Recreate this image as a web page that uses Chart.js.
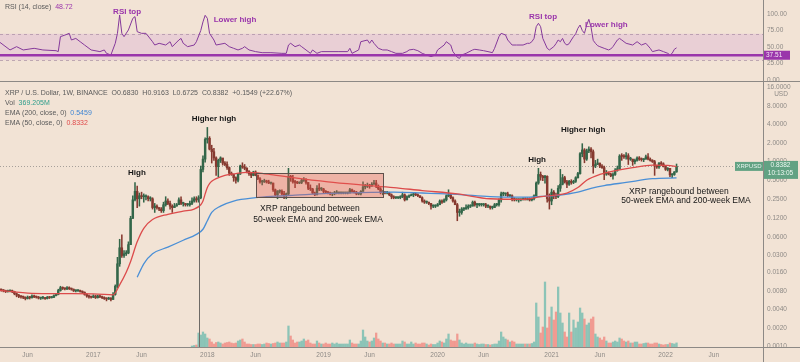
<!DOCTYPE html>
<html>
<head>
<meta charset="utf-8">
<title>XRP / U.S. Dollar, 1W, BINANCE</title>
<script src="https://cdn.jsdelivr.net/npm/chart.js@4.4.1/dist/chart.umd.min.js"></script>
<style>
  html, body { margin: 0; padding: 0; background: #f2e3d5; }
  #wrap { position: relative; width: 800px; height: 362px; overflow: hidden; background: #f2e3d5; }
  canvas { position: absolute; left: 0; display: block; }
  #rsiChart { top: 0; }
  #priceChart { top: 82px; }
</style>
</head>
<body>
<div id="wrap">
  <canvas id="rsiChart" width="800" height="82"></canvas>
  <canvas id="priceChart" width="800" height="280"></canvas>
</div>
<script>
// weekly candles, bar 0 = week of 2016-03-07
const firstWeek = "2016-03-07";
const firstOpen = 0.0086;

const closes = [
  0.0084, 0.0082, 0.0080, 0.0078, 0.0079, 0.0080, 0.0078, 0.0072, 0.0068, 0.0065,
  0.0064, 0.0063, 0.0060, 0.0063, 0.0062, 0.0066, 0.0064, 0.0063, 0.0061, 0.0061,
  0.0062, 0.0060, 0.0063, 0.0062, 0.0063, 0.0067, 0.0070, 0.0081, 0.0090, 0.0088,
  0.0086, 0.0090, 0.0087, 0.0085, 0.0080, 0.0080, 0.0081, 0.0078, 0.0076, 0.0070,
  0.0066, 0.0064, 0.0063, 0.0066, 0.0062, 0.0066, 0.0064, 0.0062, 0.0060, 0.0059,
  0.0061, 0.0058, 0.0070, 0.0095, 0.022, 0.040, 0.030, 0.032, 0.033, 0.045,
  0.12, 0.24, 0.33, 0.25, 0.28, 0.27, 0.27, 0.27, 0.25, 0.25,
  0.18, 0.19, 0.18, 0.17, 0.16, 0.20, 0.23, 0.21, 0.19, 0.18,
  0.19, 0.20, 0.24, 0.21, 0.21, 0.20, 0.20, 0.21, 0.23, 0.25,
  0.24, 0.26, 0.75, 1.10, 2.30, 2.40, 1.60, 1.45, 1.15, 0.83,
  1.05, 1.15, 0.95, 0.90, 0.80, 0.65, 0.62, 0.55, 0.50, 0.63,
  0.85, 0.82, 0.78, 0.70, 0.64, 0.60, 0.68, 0.60, 0.53, 0.47,
  0.47, 0.49, 0.47, 0.45, 0.45, 0.35, 0.29, 0.33, 0.33, 0.30,
  0.29, 0.30, 0.58, 0.55, 0.47, 0.46, 0.45, 0.46, 0.50, 0.51,
  0.46, 0.37, 0.36, 0.31, 0.29, 0.37, 0.36, 0.36, 0.33, 0.32,
  0.31, 0.30, 0.30, 0.31, 0.31, 0.31, 0.31, 0.31, 0.31, 0.31,
  0.35, 0.33, 0.32, 0.30, 0.30, 0.33, 0.39, 0.40, 0.41, 0.40,
  0.43, 0.45, 0.40, 0.36, 0.32, 0.32, 0.31, 0.31, 0.29, 0.27,
  0.26, 0.26, 0.26, 0.27, 0.29, 0.24, 0.27, 0.28, 0.29, 0.30,
  0.29, 0.28, 0.26, 0.23, 0.22, 0.22, 0.21, 0.19, 0.19, 0.19,
  0.20, 0.23, 0.22, 0.24, 0.28, 0.29, 0.26, 0.23, 0.20, 0.15,
  0.15, 0.17, 0.17, 0.18, 0.19, 0.19, 0.22, 0.20, 0.20, 0.20,
  0.20, 0.20, 0.19, 0.19, 0.18, 0.18, 0.20, 0.20, 0.24, 0.30,
  0.30, 0.30, 0.28, 0.28, 0.25, 0.24, 0.24, 0.24, 0.24, 0.25,
  0.24, 0.25, 0.24, 0.25, 0.28, 0.45, 0.62, 0.58, 0.55, 0.58,
  0.25, 0.23, 0.32, 0.28, 0.27, 0.37, 0.43, 0.55, 0.47, 0.43,
  0.48, 0.46, 0.48, 0.55, 0.64, 1.35, 1.55, 1.10, 1.50, 1.60,
  1.45, 0.85, 0.90, 0.95, 0.85, 0.80, 0.63, 0.65, 0.63, 0.59,
  0.62, 0.73, 0.77, 1.23, 1.22, 1.20, 1.25, 1.10, 1.10, 1.00,
  1.05, 1.15, 1.10, 1.08, 1.10, 1.20, 1.10, 1.05, 1.00, 0.85,
  0.82, 0.95, 0.92, 0.83, 0.75, 0.78, 0.61, 0.62, 0.683, 0.8382
];

const highs = [
  0.0088, 0.0086, 0.0084, 0.0082, 0.0082, 0.0083, 0.0082, 0.0079, 0.0074, 0.0070,
  0.0067, 0.0066, 0.0064, 0.0066, 0.0065, 0.0069, 0.0068, 0.0066, 0.0065, 0.0063,
  0.0065, 0.0063, 0.0065, 0.0065, 0.0065, 0.0069, 0.0073, 0.0085, 0.0095, 0.0093,
  0.0090, 0.0094, 0.0093, 0.0089, 0.0086, 0.0083, 0.0084, 0.0082, 0.0080, 0.0077,
  0.0072, 0.0068, 0.0066, 0.0069, 0.0068, 0.0068, 0.0068, 0.0066, 0.0064, 0.0062,
  0.0063, 0.0062, 0.0075, 0.0100, 0.028, 0.055, 0.065, 0.036, 0.036, 0.050,
  0.13, 0.28, 0.46, 0.40, 0.31, 0.32, 0.30, 0.29, 0.28, 0.27,
  0.26, 0.21, 0.20, 0.18, 0.18, 0.22, 0.27, 0.25, 0.23, 0.20,
  0.21, 0.21, 0.26, 0.27, 0.22, 0.21, 0.21, 0.23, 0.26, 0.27,
  0.27, 0.28, 0.85, 1.25, 2.45, 3.60, 2.55, 1.85, 1.65, 1.20,
  1.10, 1.20, 1.13, 1.00, 0.99, 0.82, 0.68, 0.62, 0.57, 0.65,
  0.88, 0.96, 0.90, 0.80, 0.72, 0.66, 0.70, 0.71, 0.61, 0.55,
  0.50, 0.52, 0.50, 0.50, 0.46, 0.45, 0.36, 0.34, 0.35, 0.35,
  0.33, 0.31, 0.78, 0.60, 0.60, 0.50, 0.48, 0.47, 0.52, 0.55,
  0.53, 0.46, 0.42, 0.37, 0.32, 0.41, 0.44, 0.38, 0.37, 0.34,
  0.33, 0.32, 0.31, 0.33, 0.34, 0.32, 0.32, 0.32, 0.32, 0.32,
  0.37, 0.36, 0.34, 0.33, 0.31, 0.34, 0.47, 0.43, 0.45, 0.43,
  0.46, 0.50, 0.50, 0.42, 0.38, 0.34, 0.33, 0.33, 0.32, 0.30,
  0.28, 0.27, 0.27, 0.28, 0.32, 0.30, 0.28, 0.29, 0.30, 0.31,
  0.31, 0.30, 0.28, 0.27, 0.24, 0.23, 0.22, 0.21, 0.20, 0.20,
  0.21, 0.24, 0.24, 0.25, 0.29, 0.35, 0.30, 0.27, 0.24, 0.21,
  0.17, 0.18, 0.18, 0.20, 0.20, 0.20, 0.23, 0.23, 0.21, 0.21,
  0.21, 0.21, 0.21, 0.20, 0.19, 0.19, 0.21, 0.21, 0.25, 0.32,
  0.32, 0.31, 0.32, 0.29, 0.29, 0.26, 0.25, 0.25, 0.25, 0.26,
  0.26, 0.26, 0.26, 0.26, 0.29, 0.47, 0.78, 0.68, 0.60, 0.60,
  0.59, 0.30, 0.36, 0.34, 0.31, 0.41, 0.75, 0.62, 0.58, 0.50,
  0.50, 0.51, 0.50, 0.57, 0.67, 1.40, 1.96, 1.63, 1.60, 1.75,
  1.70, 1.55, 1.05, 1.10, 0.95, 0.90, 0.85, 0.72, 0.68, 0.65,
  0.66, 0.77, 0.85, 1.30, 1.35, 1.30, 1.40, 1.35, 1.18, 1.10,
  1.10, 1.20, 1.21, 1.15, 1.12, 1.28, 1.35, 1.15, 1.08, 1.05,
  0.88, 0.97, 1.00, 0.96, 0.84, 0.80, 0.78, 0.64, 0.69, 0.9163
];

const lows = [
  0.0080, 0.0079, 0.0077, 0.0075, 0.0076, 0.0077, 0.0075, 0.0069, 0.0064, 0.0062,
  0.0061, 0.0060, 0.0057, 0.0059, 0.0059, 0.0061, 0.0062, 0.0061, 0.0059, 0.0058,
  0.0059, 0.0058, 0.0059, 0.0060, 0.0061, 0.0062, 0.0066, 0.0069, 0.0079, 0.0084,
  0.0083, 0.0084, 0.0084, 0.0082, 0.0078, 0.0077, 0.0078, 0.0076, 0.0073, 0.0068,
  0.0063, 0.0061, 0.0061, 0.0062, 0.0060, 0.0061, 0.0062, 0.0060, 0.0058, 0.0055,
  0.0058, 0.0055, 0.0058, 0.0068, 0.0090, 0.020, 0.028, 0.028, 0.030, 0.032,
  0.045, 0.12, 0.23, 0.18, 0.19, 0.25, 0.22, 0.24, 0.23, 0.23,
  0.17, 0.15, 0.17, 0.16, 0.15, 0.15, 0.19, 0.20, 0.17, 0.15,
  0.18, 0.19, 0.20, 0.20, 0.19, 0.19, 0.19, 0.19, 0.20, 0.22,
  0.22, 0.22, 0.25, 0.68, 0.98, 2.00, 1.55, 0.95, 1.05, 0.60,
  0.57, 0.97, 0.88, 0.86, 0.75, 0.60, 0.60, 0.48, 0.45, 0.47,
  0.62, 0.78, 0.74, 0.66, 0.60, 0.55, 0.59, 0.59, 0.51, 0.45,
  0.42, 0.46, 0.45, 0.44, 0.43, 0.33, 0.28, 0.25, 0.31, 0.29,
  0.25, 0.25, 0.29, 0.48, 0.45, 0.38, 0.44, 0.44, 0.44, 0.48,
  0.43, 0.35, 0.34, 0.30, 0.28, 0.29, 0.34, 0.34, 0.31, 0.31,
  0.30, 0.29, 0.28, 0.29, 0.30, 0.30, 0.30, 0.30, 0.30, 0.30,
  0.31, 0.32, 0.31, 0.29, 0.29, 0.29, 0.33, 0.36, 0.38, 0.37,
  0.40, 0.43, 0.38, 0.35, 0.30, 0.29, 0.30, 0.30, 0.28, 0.25,
  0.25, 0.25, 0.25, 0.25, 0.26, 0.23, 0.24, 0.26, 0.28, 0.27,
  0.28, 0.27, 0.26, 0.22, 0.21, 0.21, 0.20, 0.17, 0.18, 0.18,
  0.19, 0.20, 0.21, 0.22, 0.23, 0.27, 0.25, 0.22, 0.20, 0.11,
  0.13, 0.14, 0.16, 0.17, 0.17, 0.18, 0.19, 0.19, 0.18, 0.19,
  0.19, 0.19, 0.18, 0.18, 0.17, 0.17, 0.18, 0.19, 0.19, 0.22,
  0.28, 0.28, 0.27, 0.27, 0.23, 0.23, 0.23, 0.22, 0.23, 0.24,
  0.24, 0.24, 0.23, 0.23, 0.24, 0.28, 0.43, 0.50, 0.49, 0.45,
  0.22, 0.17, 0.20, 0.25, 0.25, 0.26, 0.33, 0.42, 0.45, 0.38,
  0.41, 0.43, 0.44, 0.46, 0.54, 0.63, 1.20, 0.96, 1.05, 1.40,
  1.15, 0.65, 0.80, 0.90, 0.80, 0.78, 0.51, 0.60, 0.61, 0.57,
  0.52, 0.60, 0.70, 0.75, 1.05, 1.13, 1.10, 0.90, 1.05, 0.87,
  0.92, 1.02, 1.05, 1.02, 1.00, 1.10, 1.07, 1.02, 0.97, 0.60,
  0.78, 0.78, 0.88, 0.82, 0.72, 0.71, 0.57, 0.55, 0.60, 0.6725
];

// volume in millions, first value belongs to bar 88 (2017-11-13)
const volStart = 88;
const volumes = [
  90, 135, 180, 1260, 1080, 1350, 1170, 810, 720, 450,
  270, 405, 450, 360, 270, 360, 405, 450, 360, 315,
  360, 540, 630, 720, 450, 270, 270, 225, 225, 225,
  270, 270, 225, 270, 360, 315, 270, 315, 360, 450,
  360, 360, 360, 450, 1890, 990, 630, 360, 450, 450,
  540, 720, 540, 630, 360, 270, 270, 540, 360, 270,
  270, 360, 270, 270, 360, 270, 360, 270, 270, 270,
  270, 270, 630, 360, 270, 270, 270, 540, 1530, 900,
  540, 450, 540, 810, 1260, 720, 540, 360, 360, 270,
  270, 360, 270, 270, 270, 270, 540, 450, 270, 270,
  450, 270, 360, 270, 270, 360, 360, 270, 180, 270,
  225, 225, 360, 540, 450, 360, 720, 1170, 630, 540,
  540, 1170, 630, 360, 270, 360, 270, 270, 270, 360,
  270, 225, 270, 270, 225, 225, 180, 225, 270, 270,
  540, 1350, 900, 720, 630, 450, 540, 450, 270, 270,
  270, 270, 270, 270, 270, 315, 450, 3960, 2700, 1260,
  1800, 5850, 1710, 2700, 3600, 2430, 3150, 5400, 3060, 2160,
  1350, 900, 3060, 1350, 2430, 1710, 2250, 3510, 3060, 2520,
  1980, 2160, 2520, 2700, 1170, 900, 810, 630, 900, 540,
  360, 360, 450, 540, 450, 810, 720, 540, 450, 540,
  360, 360, 450, 450, 270, 270, 315, 360, 360, 270,
  270, 360, 360, 270, 225, 180, 225, 225, 360, 315,
  270, 369.205
];

// EMA readings (bar index -> value)
const ema50Bars = [0, 15, 30, 45, 52, 55, 58, 60, 63, 66, 70, 77, 84, 89, 92, 93, 94, 95, 96, 97, 99, 103, 108, 113, 118, 125, 134, 150, 165, 180, 193, 209, 224, 239, 247, 255, 259, 264, 268, 274, 280, 289, 298, 305, 309];
const ema50Vals = [0.0082, 0.0073, 0.0072, 0.0071, 0.0069, 0.0100, 0.016, 0.024, 0.05, 0.083, 0.115, 0.14, 0.157, 0.17, 0.2, 0.23, 0.3, 0.38, 0.44, 0.48, 0.53, 0.6, 0.64, 0.67, 0.66, 0.61, 0.55, 0.47, 0.42, 0.38, 0.34, 0.3, 0.25, 0.245, 0.27, 0.29, 0.31, 0.38, 0.5, 0.62, 0.7, 0.8, 0.88, 0.87, 0.8332];

const ema200Bars = [63, 66, 70, 77, 84, 90, 93, 95, 97, 101, 107, 117, 126, 135, 150, 165, 180, 193, 209, 224, 239, 247, 255, 264, 270, 276, 286, 298, 309];
const ema200Vals = [0.0133, 0.022, 0.032, 0.041, 0.053, 0.066, 0.08, 0.11, 0.15, 0.19, 0.23, 0.26, 0.275, 0.286, 0.305, 0.315, 0.32, 0.31, 0.295, 0.27, 0.265, 0.272, 0.285, 0.32, 0.37, 0.41, 0.46, 0.53, 0.5459];

// RSI(14) readings
const rsiBars = [0, 5, 8, 11, 16, 20, 26, 27, 28, 30, 32, 33, 35, 37, 39, 42, 46, 48, 49, 51, 53, 54, 55, 56, 57, 59, 61, 62, 63, 65, 67, 70, 71, 73, 76, 78, 79, 82, 83, 84, 86, 89, 90, 92, 93, 94, 95, 96, 98, 99, 103, 105, 107, 109, 111, 112, 114, 117, 120, 124, 129, 131, 132, 133, 135, 137, 138, 140, 142, 143, 145, 147, 155, 159, 160, 161, 164, 165, 168, 169, 170, 171, 173, 175, 177, 179, 181, 184, 186, 187, 189, 191, 193, 195, 197, 199, 200, 203, 204, 206, 207, 209, 210, 211, 213, 216, 217, 219, 221, 223, 225, 226, 228, 229, 231, 232, 234, 236, 239, 241, 242, 243, 244, 245, 246, 247, 248, 250, 251, 253, 254, 255, 256, 257, 258, 259, 260, 261, 262, 263, 264, 265, 266, 267, 268, 269, 270, 271, 272, 273, 274, 276, 278, 279, 280, 282, 283, 284, 286, 289, 291, 293, 295, 297, 298, 301, 303, 305, 306, 307, 308, 309];
const rsiVals = [58, 45.5, 50.5, 45.5, 48, 45.5, 44.4, 43, 65.7, 68, 70.7, 60.6, 63, 58, 53, 45.5, 43, 45.5, 40.4, 37.9, 55.6, 70.7, 98.5, 70.7, 65.7, 75.8, 93.4, 96, 73.2, 70.7, 70.7, 58, 53, 55.6, 53, 58, 50.5, 60.6, 63, 55.6, 50.5, 53, 58, 75, 88, 98, 93.4, 70.7, 60.6, 53, 55.6, 50.5, 48, 45.5, 48, 50.5, 45.5, 43, 41.4, 41.4, 40.4, 40.4, 53, 55.6, 50.5, 53, 50.5, 45.5, 40.4, 45.5, 40.4, 43, 43, 43, 48, 40.4, 45.5, 58, 60.6, 55.6, 60.6, 55.6, 48, 45.5, 45.5, 43, 40.4, 40.4, 43, 45.5, 46.5, 44.4, 40.4, 37.9, 35.4, 37.9, 45.5, 53, 58, 53, 43, 34.3, 32.8, 37.9, 40.4, 45.5, 46.5, 45.5, 44.4, 43, 41.4, 48, 65.7, 70.7, 68.2, 60.6, 53, 53, 53, 55.6, 55.6, 58, 63, 80.8, 85.9, 80.8, 63, 48, 45.5, 50.5, 55, 60.6, 58, 63, 55.6, 53, 55, 60.6, 65.7, 70, 78.3, 83.3, 75, 70.7, 83.3, 91.9, 80, 60, 55.6, 52, 50.5, 48, 45.5, 47, 50.5, 60.6, 63, 60.6, 55.6, 53, 58, 53, 55.6, 48, 43, 45.5, 43, 40.4, 37.9, 40.4, 46.5, 48.72];

const priceTicks = [0.001, 0.002, 0.004, 0.008, 0.016, 0.03, 0.06, 0.12, 0.25, 0.5, 1, 2, 4, 8, 16];
const rsiTicks = [0, 25, 50, 75, 100];
const timeTicks = ["2016-06-06", "2017-01-02", "2017-06-05", "2018-01-01", "2018-06-04", "2019-01-07", "2019-06-03", "2020-01-06", "2020-06-01", "2021-01-04", "2021-06-07", "2022-01-03", "2022-06-06"];
const timeLabels = ["Jun", "2017", "Jun", "2018", "Jun", "2019", "Jun", "2020", "Jun", "2021", "Jun", "2022", "Jun"];

const FONT = "'Liberation Sans', Arial, sans-serif";
const TXT = "#5a5a5a";
const AXIS_TXT = "#8e8a86";
const SEP = "#8d8985";
const UP = "#336649", DOWN = "#86392f";
const VOL_UP = "rgba(38,166,154,0.5)", VOL_DOWN = "rgba(239,83,80,0.5)";
const PURPLE = "#9a35ab";
const GREEN_TAG = "#62a283";

const dayOf = s => Date.parse(s + "T00:00:00Z") / 864e5;
const day0 = dayOf(firstWeek);
const barX = i => day0 + 7 * i;
const xMin = dayOf("2016-03-10"), xMax = dayOf("2022-11-10");

const opens = closes.map((c, i) => i === 0 ? firstOpen : closes[i - 1]);
const isUp = i => closes[i] >= opens[i];
const lastClose = closes[closes.length - 1];

function runs(ctx, x, y, parts, size, weight) {
  ctx.font = (weight || "") + " " + size + "px " + FONT;
  ctx.textAlign = "left";
  ctx.textBaseline = "middle";
  for (const [t, c] of parts) {
    ctx.fillStyle = c;
    ctx.fillText(t, x, y);
    x += ctx.measureText(t).width;
  }
}
function label(ctx, text, x, y, size, color, bold) {
  ctx.font = (bold ? "bold " : "") + size + "px " + FONT;
  ctx.textAlign = "center";
  ctx.textBaseline = "middle";
  ctx.fillStyle = color;
  ctx.fillText(text, x, y);
}
function zeroPad(s) { s.paddingTop = 0; s.paddingBottom = 0; s.paddingLeft = 0; s.paddingRight = 0; }

// ---------- RSI pane ----------
const rsiNotes = [
  { text: "RSI top", bar: 58.4, val: 103 },
  { text: "Lower high", bar: 107.6, val: 90.9 },
  { text: "RSI top", bar: 248.1, val: 95.5 },
  { text: "Lower high", bar: 277, val: 83.3 }
];
const rsiLevel = 37.51;

const rsiOverlay = {
  id: "rsiOverlay",
  beforeDatasetsDraw(chart) {
    const { ctx, chartArea: a, scales: { y } } = chart;
    const top = y.getPixelForValue(70), bot = y.getPixelForValue(30);
    ctx.save();
    ctx.fillStyle = "rgba(180,80,220,0.13)";
    ctx.fillRect(a.left, top, a.right - a.left, bot - top);
    ctx.strokeStyle = "rgba(150,120,150,0.55)";
    ctx.lineWidth = 1;
    ctx.setLineDash([3, 3]);
    for (const yy of [top, bot]) {
      ctx.beginPath(); ctx.moveTo(a.left, Math.round(yy) + 0.5); ctx.lineTo(a.right, Math.round(yy) + 0.5); ctx.stroke();
    }
    ctx.restore();
  },
  afterDatasetsDraw(chart) {
    const { ctx, chartArea: a, scales: { x, y } } = chart;
    const ly = y.getPixelForValue(rsiLevel);
    ctx.save();
    ctx.strokeStyle = PURPLE;
    ctx.lineWidth = 2.5;
    ctx.beginPath(); ctx.moveTo(a.left, ly); ctx.lineTo(a.right, ly); ctx.stroke();
    for (const n of rsiNotes) {
      label(ctx, n.text, x.getPixelForValue(barX(n.bar)), y.getPixelForValue(n.val), 8, PURPLE, true);
    }
    ctx.restore();
  },
  afterDraw(chart) {
    const { ctx, chartArea: a, scales: { y } } = chart;
    ctx.save();
    runs(ctx, 5, 7, [["RSI (14, close)  ", TXT], ["48.72", PURPLE]], 7);
    // level tag on the axis
    const ly = y.getPixelForValue(rsiLevel);
    ctx.fillStyle = PURPLE;
    ctx.fillRect(a.right, ly - 4.5, 27, 9);
    runs(ctx, a.right + 3, ly, [[rsiLevel.toFixed(2), "#f4e6f4"]], 6.5);
    // pane borders
    ctx.strokeStyle = SEP;
    ctx.lineWidth = 1;
    ctx.beginPath();
    ctx.moveTo(0, 81.5); ctx.lineTo(800, 81.5);
    ctx.moveTo(a.right + 0.5, 0); ctx.lineTo(a.right + 0.5, 82);
    ctx.stroke();
    ctx.restore();
  }
};

new Chart(document.getElementById("rsiChart"), {
  type: "line",
  data: {
    datasets: [{
      data: rsiBars.map((b, k) => ({ x: barX(b), y: rsiVals[k] })),
      borderColor: "#84389a",
      borderWidth: 1,
      pointRadius: 0,
      tension: 0
    }]
  },
  options: {
    responsive: false,
    animation: false,
    devicePixelRatio: 1,
    events: [],
    layout: { padding: 0 },
    plugins: { legend: { display: false }, tooltip: { enabled: false } },
    scales: {
      x: { type: "linear", display: false, min: xMin, max: xMax },
      y: {
        type: "linear", position: "right", min: -3.03, max: 121.2,
        grid: { display: false, drawTicks: false }, border: { display: false },
        ticks: { padding: 4, color: AXIS_TXT, font: { size: 6.5, family: FONT }, callback: v => Number(v).toFixed(2) },
        afterBuildTicks: s => { s.ticks = rsiTicks.map(v => ({ value: v })); },
        afterFit: s => { s.width = 37; zeroPad(s); }
      }
    }
  },
  plugins: [rsiOverlay]
});

// ---------- price pane ----------
const priceNotes = [
  { text: "High", bar: 62.9, price: 0.65, bold: true },
  { text: "Higher high", bar: 98, price: 4.9, bold: true },
  { text: "XRP rangebound between", bar: 141.8, price: 0.175 },
  { text: "50-week EMA and 200-week EMA", bar: 145.5, price: 0.116 },
  { text: "High", bar: 245.4, price: 1.057, bold: true },
  { text: "Higher high", bar: 266.4, price: 3.26, bold: true },
  { text: "XRP rangebound between", bar: 310.1, price: 0.331 },
  { text: "50-week EMA and 200-week EMA", bar: 313.3, price: 0.236 }
];
const rangeBox = { bar0: 117.2, bar1: 175.1, lo: 0.264, hi: 0.65 };
const markerBar = 91, markerTop = 0.26;

const priceOverlay = {
  id: "priceOverlay",
  beforeDatasetsDraw(chart) {
    const { ctx, chartArea: a, scales: { y } } = chart;
    const py = Math.round(y.getPixelForValue(lastClose)) + 0.5;
    ctx.save();
    ctx.strokeStyle = "rgba(105,105,105,0.55)";
    ctx.lineWidth = 1;
    ctx.setLineDash([1, 2]);
    ctx.beginPath(); ctx.moveTo(a.left, py); ctx.lineTo(a.right, py); ctx.stroke();
    ctx.restore();
  },
  afterDatasetsDraw(chart) {
    const { ctx, chartArea: a, scales: { x, y } } = chart;
    ctx.save();
    // vertical marker
    const mx = Math.round(x.getPixelForValue(barX(markerBar))) + 0.5;
    ctx.strokeStyle = "#6e6a66";
    ctx.lineWidth = 1;
    ctx.beginPath(); ctx.moveTo(mx, y.getPixelForValue(markerTop)); ctx.lineTo(mx, a.bottom); ctx.stroke();
    // range rectangle
    const rx0 = x.getPixelForValue(barX(rangeBox.bar0)), rx1 = x.getPixelForValue(barX(rangeBox.bar1));
    const ry0 = y.getPixelForValue(rangeBox.hi), ry1 = y.getPixelForValue(rangeBox.lo);
    ctx.fillStyle = "rgba(232,90,80,0.35)";
    ctx.fillRect(rx0, ry0, rx1 - rx0, ry1 - ry0);
    ctx.strokeStyle = "#5e504b";
    ctx.strokeRect(Math.round(rx0) + 0.5, Math.round(ry0) + 0.5, Math.round(rx1 - rx0), Math.round(ry1 - ry0));
    // notes
    for (const n of priceNotes) {
      label(ctx, n.text, x.getPixelForValue(barX(n.bar)), y.getPixelForValue(n.price),
        n.bold ? 8 : 8.5, "#161616", !!n.bold);
    }
    ctx.restore();
  },
  afterDraw(chart) {
    const { ctx, chartArea: a, scales: { y } } = chart;
    ctx.save();
    runs(ctx, 5, 11, [["XRP / U.S. Dollar, 1W, BINANCE  O0.6830  H0.9163  L0.6725  C0.8382  +0.1549 (+22.67%)", TXT]], 7);
    runs(ctx, 5, 21, [["Vol  ", TXT], ["369.205M", "#2f9e8c"]], 7);
    runs(ctx, 5, 31, [["EMA (200, close, 0)  ", TXT], ["0.5459", "#3f86d4"]], 7);
    runs(ctx, 5, 41, [["EMA (50, close, 0)  ", TXT], ["0.8332", "#e04a4a"]], 7);
    label(ctx, "USD", 781, 12, 6.5, AXIS_TXT);
    // last price tags
    const py = y.getPixelForValue(lastClose);
    ctx.fillStyle = GREEN_TAG;
    ctx.fillRect(a.right - 28, py - 4.5, 28, 9);
    ctx.fillRect(a.right, py - 5.5, 35, 18);
    label(ctx, "XRPUSD", a.right - 14, py, 6, "#e6f3ec");
    label(ctx, lastClose.toFixed(4), a.right + 17.5, py - 1, 6.5, "#eef8f2");
    label(ctx, "10:13:05", a.right + 17.5, py + 7, 6.5, "#eef8f2");
    // pane borders
    ctx.strokeStyle = SEP;
    ctx.lineWidth = 1;
    ctx.beginPath();
    ctx.moveTo(0, a.bottom + 0.5); ctx.lineTo(800, a.bottom + 0.5);
    ctx.moveTo(a.right + 0.5, 0); ctx.lineTo(a.right + 0.5, 280);
    ctx.stroke();
    ctx.restore();
  }
};

new Chart(document.getElementById("priceChart"), {
  type: "bar",
  data: {
    datasets: [
      {
        label: "Vol",
        yAxisID: "yVol",
        data: volumes.map((v, k) => ({ x: barX(volStart + k), y: v })),
        backgroundColor: volumes.map((v, k) => isUp(volStart + k) ? VOL_UP : VOL_DOWN),
        barThickness: 1.6,
        grouped: false,
        order: 5
      },
      {
        label: "wick",
        data: closes.map((c, i) => ({ x: barX(i), y: [lows[i], highs[i]] })),
        backgroundColor: closes.map((c, i) => isUp(i) ? UP : DOWN),
        barThickness: 0.9,
        grouped: false,
        order: 3
      },
      {
        label: "body",
        data: closes.map((c, i) => ({ x: barX(i), y: [opens[i], c] })),
        backgroundColor: closes.map((c, i) => isUp(i) ? UP : DOWN),
        barThickness: 1.8,
        minBarLength: 1,
        grouped: false,
        order: 2
      },
      {
        type: "line",
        label: "EMA 200",
        data: ema200Bars.map((b, k) => ({ x: barX(b), y: ema200Vals[k] })),
        borderColor: "#4a8fd6",
        borderWidth: 1.3,
        pointRadius: 0,
        cubicInterpolationMode: "monotone",
        order: 1
      },
      {
        type: "line",
        label: "EMA 50",
        data: ema50Bars.map((b, k) => ({ x: barX(b), y: ema50Vals[k] })),
        borderColor: "#dc4b4b",
        borderWidth: 1.3,
        pointRadius: 0,
        cubicInterpolationMode: "monotone",
        order: 0
      }
    ]
  },
  options: {
    responsive: false,
    animation: false,
    devicePixelRatio: 1,
    events: [],
    layout: { padding: 0 },
    plugins: { legend: { display: false }, tooltip: { enabled: false } },
    scales: {
      x: {
        type: "linear", min: xMin, max: xMax, offset: false,
        grid: { display: false, drawTicks: false }, border: { display: false },
        ticks: { padding: 4, autoSkip: false, maxRotation: 0, color: AXIS_TXT, font: { size: 6.5, family: FONT },
          callback: (v, i) => timeLabels[i] },
        afterBuildTicks: s => { s.ticks = timeTicks.map(d => ({ value: dayOf(d) })); },
        afterFit: s => { s.height = 15; zeroPad(s); }
      },
      y: {
        type: "logarithmic", position: "right", min: 0.000981, max: 19.66,
        grid: { display: false, drawTicks: false }, border: { display: false },
        ticks: { padding: 4, color: AXIS_TXT, font: { size: 6.5, family: FONT }, callback: v => Number(v).toFixed(4) },
        afterBuildTicks: s => { s.ticks = priceTicks.map(v => ({ value: v })); },
        afterFit: s => { s.width = 37; zeroPad(s); }
      },
      yVol: { type: "linear", display: false, min: 0, max: 23850 }
    }
  },
  plugins: [priceOverlay]
});
</script>
</body>
</html>
